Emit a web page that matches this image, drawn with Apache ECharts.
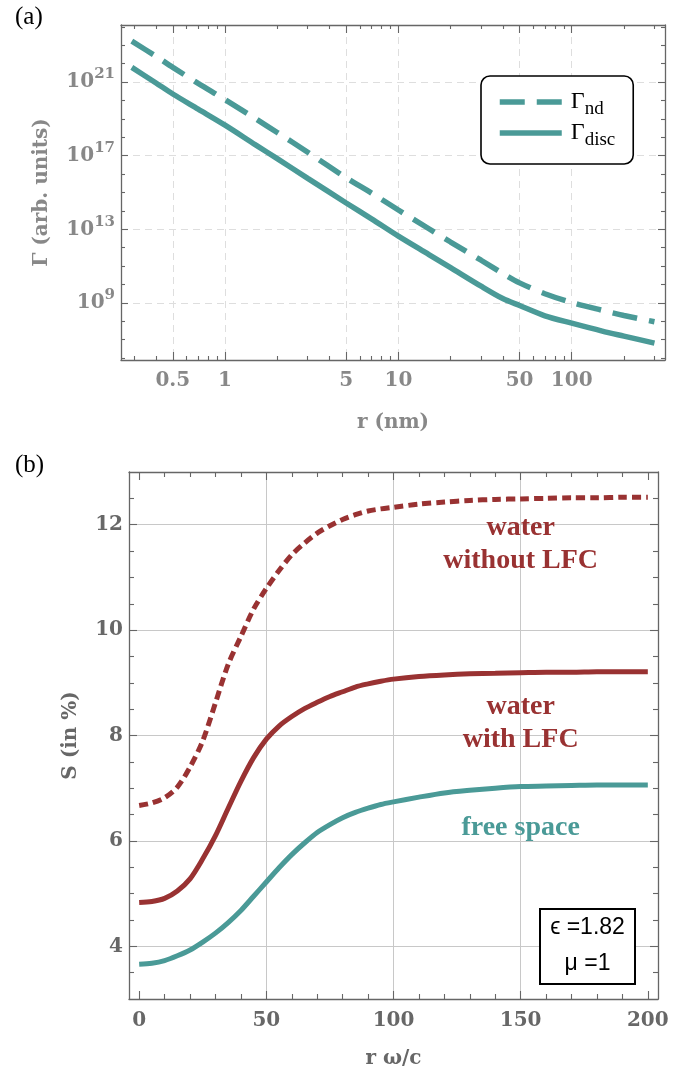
<!DOCTYPE html>
<html><head><meta charset="utf-8">
<script src="https://cdn.jsdelivr.net/npm/echarts@6/dist/echarts.min.js"></script>
<style>html,body{margin:0;padding:0;background:#fff}#c{width:693px;height:1077px}</style>
</head><body><div id="c"></div>
<script>
// ---------- Panel (a) data ----------
const rNm = [0.29, 0.4, 0.5, 0.7, 1, 1.5, 2, 3, 5, 7, 10, 15, 20, 30, 40, 50, 70, 100, 150, 200, 300];
const gammaNd = [1.66e23, 2.51e22, 6.31e21, 8.51e20, 1.12e20, 1.02e19, 1.82e18, 1.55e17, 6.31e15, 9.33e14,
  1.12e14, 1.07e13, 2.04e12, 2.09e11, 3.98e10, 1.23e10, 3.16e9, 1.05e9, 3.98e8, 2.09e8, 9.55e7];
const gammaDisc = [6.31e21, 8.91e20, 2.24e20, 3.39e19, 4.57e18, 3.89e17, 6.92e16, 5.89e15, 2.69e14, 3.72e13,
  4.27e12, 4.27e11, 8.32e10, 8.13e9, 1.74e9, 7.24e8, 2.00e8, 7.94e7, 2.95e7, 1.58e7, 6.61e6];
const xTicksA = [0.5, 1, 5, 10, 50, 100];
const xMinorA = [0.3, 0.4, 0.6, 0.7, 0.8, 0.9, 2, 3, 4, 6, 7, 8, 9, 20, 30, 40, 60, 70, 80, 90, 200, 300];
const yTicksA = [1e9, 1e13, 1e17, 1e21];
const yMinorA = [1e6, 1e7, 1e8, 1e10, 1e11, 1e12, 1e14, 1e15, 1e16, 1e18, 1e19, 1e20, 1e22, 1e23, 1e24];
const legendNames = ['Γnd', 'Γdisc'];

// ---------- Panel (b) data ----------
const rOmega = [0, 5, 10, 15, 20, 25, 30, 35, 40, 45, 50, 55, 60, 65, 70, 75, 80, 85, 90, 95, 100,
  110, 120, 130, 140, 150, 160, 170, 180, 190, 200];
const sFreeSpace = [3.66, 3.68, 3.73, 3.82, 3.93, 4.08, 4.25, 4.45, 4.68, 4.95, 5.22, 5.49, 5.74, 5.96, 6.16,
  6.31, 6.44, 6.54, 6.62, 6.69, 6.74, 6.83, 6.91, 6.96, 7.00, 7.03, 7.04, 7.05, 7.06, 7.06, 7.06];
const sWaterLFC = [4.83, 4.85, 4.91, 5.05, 5.28, 5.66, 6.10, 6.62, 7.13, 7.58, 7.93, 8.18, 8.36, 8.51, 8.63,
  8.74, 8.83, 8.92, 8.98, 9.03, 9.07, 9.12, 9.15, 9.17, 9.18, 9.19, 9.20, 9.20, 9.21, 9.21, 9.21];
const sWaterNoLFC = [6.67, 6.72, 6.82, 7.02, 7.40, 7.90, 8.62, 9.35, 9.88, 10.40, 10.79, 11.13, 11.43, 11.65, 11.84,
  11.98, 12.10, 12.19, 12.26, 12.30, 12.33, 12.39, 12.43, 12.46, 12.48, 12.49, 12.50, 12.51, 12.51, 12.52, 12.52];
const xTicksB = [0, 50, 100, 150, 200];
const xMinorB = [10, 20, 30, 40, 60, 70, 80, 90, 110, 120, 130, 140, 160, 170, 180, 190];
const xGridB = [50, 100, 150];
const yTicksB = [4, 6, 8, 10, 12];
const yMinorB = [3.5, 4.5, 5, 5.5, 6.5, 7, 7.5, 8.5, 9, 9.5, 10.5, 11, 11.5, 12.5];
const annotations = [
  { text: 'water\nwithout LFC', x: 150, y: 11.63, color: 'red' },
  { text: 'water\nwith LFC', x: 150, y: 8.23, color: 'red' },
  { text: 'free space', x: 150, y: 6.24, color: 'teal' }
];
const paramLines = ['ϵ =1.82', 'μ =1'];

// ---------- styles ----------
const TEAL = '#4a9a97', RED = '#993232', FRAME = '#666666';
const SERIF = '"DejaVu Serif", serif';
const CM = '"Liberation Serif", "DejaVu Serif", serif';
const GRAY_A = '#888888', GRAY_B = '#676767';

function ax(extra) {
  return Object.assign({
    axisLine: { show: false, onZero: false },
    axisTick: { show: false },
    axisLabel: { show: false },
    splitLine: { show: false }
  }, extra);
}
const lineOn = { show: true, onZero: false, lineStyle: { color: FRAME, width: 1.3 } };
const tick = (vals, len) => ({ show: true, inside: true, length: len, customValues: vals, lineStyle: { color: FRAME, width: 1.1 } });

const XA = { gridIndex: 0, type: 'log', logBase: 10, min: 0.2512, max: 345.1 };
const YA = { gridIndex: 0, type: 'log', logBase: 10, min: 7.94e5, max: 1.259e24 };
const XB = { gridIndex: 1, type: 'value', min: -4, max: 204 };
const YB = { gridIndex: 1, type: 'value', min: 3, max: 13 };

const xAxis = [
  ax(Object.assign({}, XA, { position: 'bottom', axisLine: lineOn, axisTick: tick(xTicksA, 8),
    axisLabel: { show: true, customValues: xTicksA, formatter: v => String(+(+v).toPrecision(6)),
      color: GRAY_A, fontFamily: SERIF, fontWeight: 'bold', fontSize: 20, margin: 11 },
    splitLine: { show: true, lineStyle: { color: '#dedede', width: 1, type: [7, 5] } },
    name: 'r (nm)', nameLocation: 'middle', nameGap: 53,
    nameTextStyle: { color: GRAY_A, fontFamily: SERIF, fontWeight: 'bold', fontSize: 20 } })),
  ax(Object.assign({}, XA, { position: 'bottom', axisTick: tick(xMinorA, 4) })),
  ax(Object.assign({}, XA, { position: 'top', axisLine: lineOn, axisTick: tick(xTicksA, 8) })),
  ax(Object.assign({}, XA, { position: 'top', axisTick: tick(xMinorA, 4) })),
  ax(Object.assign({}, XB, { position: 'bottom', axisLine: lineOn, axisTick: tick(xTicksB, 8),
    axisLabel: { show: true, customValues: xTicksB, color: GRAY_B, fontFamily: SERIF, fontWeight: 'bold', fontSize: 20, margin: 12 },
    name: 'r ω/c', nameLocation: 'middle', nameGap: 50,
    nameTextStyle: { color: GRAY_B, fontFamily: SERIF, fontWeight: 'bold', fontSize: 20 } })),
  ax(Object.assign({}, XB, { position: 'bottom', axisTick: tick(xMinorB, 5) })),
  ax(Object.assign({}, XB, { position: 'bottom', axisTick: { show: false, customValues: xGridB },
    splitLine: { show: true, lineStyle: { color: '#c8c8c8', width: 1 } } })),
  ax(Object.assign({}, XB, { position: 'top', axisLine: lineOn, axisTick: tick(xTicksB, 8) })),
  ax(Object.assign({}, XB, { position: 'top', axisTick: tick(xMinorB, 5) }))
];

const yAxis = [
  ax(Object.assign({}, YA, { position: 'left', axisLine: lineOn, axisTick: tick(yTicksA, 7),
    axisLabel: { show: true, customValues: yTicksA, margin: 6,
      formatter: v => '{a|10}{b|' + Math.round(Math.log10(v)) + '}',
      rich: {
        a: { color: GRAY_A, fontFamily: SERIF, fontWeight: 'bold', fontSize: 20, lineHeight: 30, verticalAlign: 'middle' },
        b: { color: GRAY_A, fontFamily: SERIF, fontWeight: 'bold', fontSize: 15, lineHeight: 15, verticalAlign: 'top' }
      } },
    splitLine: { show: true, lineStyle: { color: '#dedede', width: 1, type: [7, 5] } },
    name: 'Γ (arb. units)', nameLocation: 'middle', nameGap: 69,
    nameTextStyle: { color: GRAY_A, fontFamily: SERIF, fontWeight: 'bold', fontSize: 20 } })),
  ax(Object.assign({}, YA, { position: 'left', axisTick: tick(yMinorA, 4) })),
  ax(Object.assign({}, YA, { position: 'right', axisLine: lineOn, axisTick: tick(yTicksA, 7) })),
  ax(Object.assign({}, YA, { position: 'right', axisTick: tick(yMinorA, 4) })),
  ax(Object.assign({}, YB, { position: 'left', axisLine: lineOn, axisTick: tick(yTicksB, 8),
    axisLabel: { show: true, customValues: yTicksB, color: GRAY_B, fontFamily: SERIF, fontWeight: 'bold', fontSize: 20, margin: 6 },
    splitLine: { show: true, lineStyle: { color: '#c8c8c8', width: 1 } },
    name: 'S (in %)', nameLocation: 'middle', nameGap: 48,
    nameTextStyle: { color: GRAY_B, fontFamily: SERIF, fontWeight: 'bold', fontSize: 20 } })),
  ax(Object.assign({}, YB, { position: 'left', axisTick: tick(yMinorB, 5) })),
  ax(Object.assign({}, YB, { position: 'right', axisLine: lineOn, axisTick: tick(yTicksB, 8) })),
  ax(Object.assign({}, YB, { position: 'right', axisTick: tick(yMinorB, 5) }))
];

const pairs = (xs, ys) => xs.map((x, i) => [x, ys[i]]);

const series = [
  { type: 'line', name: legendNames[0], xAxisIndex: 0, yAxisIndex: 0, data: pairs(rNm, gammaNd),
    symbol: 'none', smooth: 0.3, z: 5,
    lineStyle: { color: TEAL, width: 5.5, type: [25, 12], cap: 'butt' }, itemStyle: { color: TEAL } },
  { type: 'line', name: legendNames[1], xAxisIndex: 0, yAxisIndex: 0, data: pairs(rNm, gammaDisc),
    symbol: 'none', smooth: 0.3, z: 5,
    lineStyle: { color: TEAL, width: 5.5, cap: 'butt' }, itemStyle: { color: TEAL } },
  { type: 'line', xAxisIndex: 4, yAxisIndex: 4, data: pairs(rOmega, sWaterNoLFC),
    symbol: 'none', smooth: 0.3, z: 5,
    lineStyle: { color: RED, width: 5, type: [9, 5], cap: 'butt' } },
  { type: 'line', xAxisIndex: 4, yAxisIndex: 4, data: pairs(rOmega, sWaterLFC),
    symbol: 'none', smooth: 0.3, z: 5,
    lineStyle: { color: RED, width: 5 } },
  { type: 'line', xAxisIndex: 4, yAxisIndex: 4, data: pairs(rOmega, sFreeSpace),
    symbol: 'none', smooth: 0.3, z: 5,
    lineStyle: { color: TEAL, width: 5 } }
];

const chart = echarts.init(document.getElementById('c'), null, { renderer: 'canvas' });
chart.setOption({
  animation: false,
  backgroundColor: '#ffffff',
  grid: [
    { left: 121, top: 25, width: 544, height: 335, outerBoundsMode: 'none', containLabel: false },
    { left: 129, top: 472, width: 529, height: 527, outerBoundsMode: 'none', containLabel: false }
  ],
  xAxis: xAxis,
  yAxis: yAxis,
  legend: {
    show: true, orient: 'vertical', left: 481, top: 76,
    padding: [14, 18, 14, 16], itemGap: 2, itemWidth: 62, itemHeight: 14,
    borderColor: '#000', borderWidth: 1.6, borderRadius: 9, backgroundColor: '#fff',
    selectedMode: false,
    data: legendNames.map(n => ({ name: n })),
    itemStyle: { opacity: 0 },
    lineStyle: { width: 5.5 },
    formatter: n => '{g|Γ}{s|' + n.slice(1) + '}',
    textStyle: {
      rich: {
        g: { fontFamily: CM, fontSize: 24, color: '#000', lineHeight: 34, verticalAlign: 'middle', padding: [0, 0, 0, 4] },
        s: { fontFamily: CM, fontSize: 19, color: '#000', lineHeight: 19, verticalAlign: 'bottom' }
      }
    }
  },
  series: series
});

// annotations placed via the chart's own coordinate conversion
const P = (x, y) => chart.convertToPixel({ xAxisIndex: 4, yAxisIndex: 4 }, [x, y]);
const graphics = [
  { type: 'text', id: 'la', x: 15, y: 5, style: { text: '(a)', fontFamily: CM, fontSize: 25, fill: '#000' } },
  { type: 'text', id: 'lb', x: 15, y: 453, style: { text: '(b)', fontFamily: CM, fontSize: 25, fill: '#000' } },
  { type: 'rect', id: 'box', shape: { x: 540, y: 909, width: 95, height: 75 },
    style: { fill: '#fff', stroke: '#000', lineWidth: 2 }, z: 20 },
  { type: 'text', id: 'p1', x: 587.5, y: 928, z: 21,
    style: { text: paramLines[0], fontFamily: '"Liberation Sans", "DejaVu Sans", sans-serif', fontSize: 23, fill: '#000', align: 'center', verticalAlign: 'middle' } },
  { type: 'text', id: 'p2', x: 587.5, y: 964, z: 21,
    style: { text: paramLines[1], fontFamily: '"Liberation Sans", "DejaVu Sans", sans-serif', fontSize: 23, fill: '#000', align: 'center', verticalAlign: 'middle' } }
];
annotations.forEach((a, i) => {
  const p = P(a.x, a.y);
  graphics.push({ type: 'text', id: 'ann' + i, x: p[0], y: p[1], z: 10,
    style: { text: a.text, fontFamily: CM, fontWeight: 'bold', fontSize: 28, lineHeight: 33,
      fill: a.color === 'red' ? RED : TEAL, align: 'center', verticalAlign: 'middle' } });
});
chart.setOption({ graphic: graphics });
</script></body></html>
